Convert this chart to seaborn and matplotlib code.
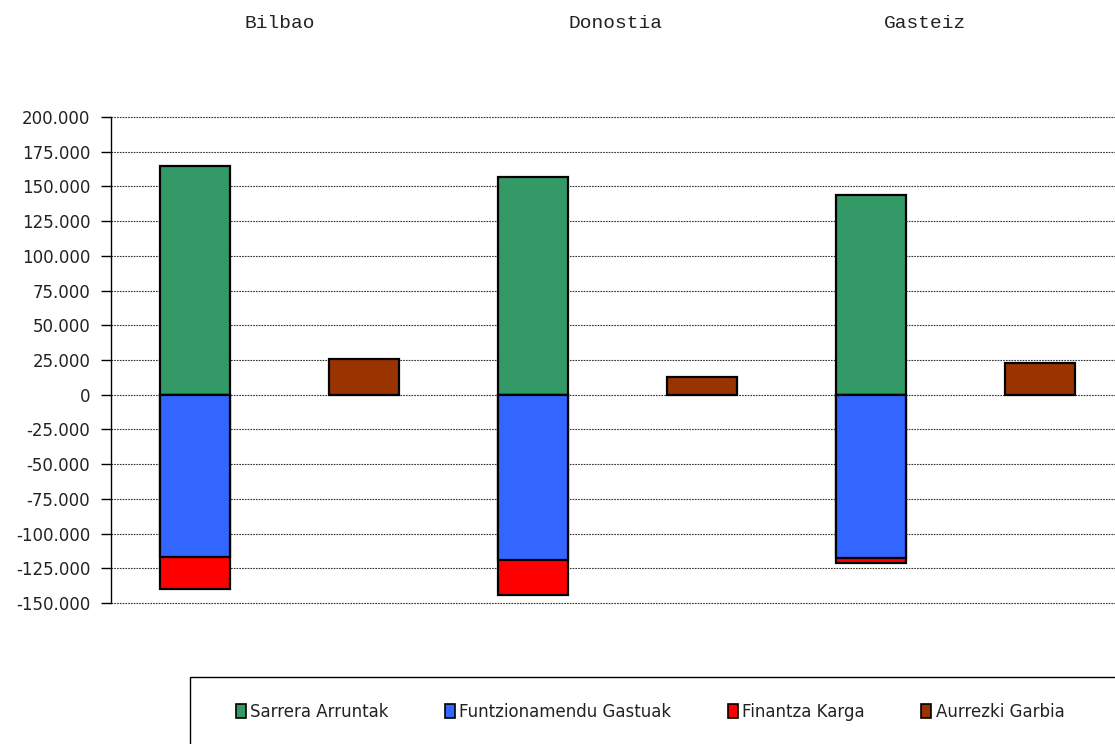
import numpy as np
import pandas as pd
import matplotlib
matplotlib.use("Agg")
import matplotlib.pyplot as plt
import seaborn as sns
from matplotlib.ticker import FuncFormatter, FixedLocator
from matplotlib.patches import Rectangle, Patch

# ---- data ----
cities = ["Bilbao", "Donostia", "Gasteiz"]
series_names = ["Sarrera Arruntak", "Funtzionamendu Gastuak", "Finantza Karga", "Aurrezki Garbia"]
sarrera = [165000, 157000, 143500]
funtzionamendu = [-117000, -119300, -117600]
finantza = [-22800, -24900, -3600]
aurrezki = [25700, 12700, 22800]
y_ticks = [-150000, -125000, -100000, -75000, -50000, -25000, 0,
           25000, 50000, 75000, 100000, 125000, 150000, 175000, 200000]
colors = ["#339966", "#3366FF", "#FF0000", "#993300"]

sns.set_theme(style="white")
plt.rcParams['font.family'] = ['DejaVu Sans']

slots = []
for c in cities:
    slots += [c + " 1", c + " 2"]
main_slots = [c + " 1" for c in cities]
side_slots = [c + " 2" for c in cities]

df_main = pd.DataFrame({
    "slot": main_slots,
    "sarrera": sarrera,
    "funtz": funtzionamendu,
    "fin_total": np.add(funtzionamendu, finantza),
})
df_side = pd.DataFrame({"slot": side_slots, "aurrezki": aurrezki})

fig = plt.figure(figsize=(11.15, 7.44), dpi=100)
ax = fig.add_axes([111 / 1115, 1 - 603 / 744, 1 - 111 / 1115, (603 - 117) / 744])

common = dict(order=slots, width=0.41, edgecolor="black", linewidth=1.6,
              saturation=1, ax=ax, errorbar=None)
sns.barplot(data=df_main, x="slot", y="sarrera", color=colors[0], **common)
sns.barplot(data=df_main, x="slot", y="fin_total", color=colors[2], **common)
sns.barplot(data=df_main, x="slot", y="funtz", color=colors[1], **common)
sns.barplot(data=df_side, x="slot", y="aurrezki", color=colors[3], **common)

ax.set_xlim(-0.497, 5.444)
ax.set_ylim(-150000, 200000)
ax.set_xlabel("")
ax.set_ylabel("")
ax.set_xticks([])
ax.yaxis.set_major_locator(FixedLocator(y_ticks))
ax.yaxis.set_major_formatter(FuncFormatter(lambda v, p: f"{int(round(v)):,}".replace(",", ".")))
ax.yaxis.grid(True, color="#333333", linestyle=(0, (1.5, 1)), linewidth=0.8)
for gl in ax.get_ygridlines():
    gl.set_clip_on(False)
ax.set_axisbelow(True)
for s in ["top", "right", "bottom"]:
    ax.spines[s].set_visible(False)
ax.spines["left"].set_color("black")
ax.spines["left"].set_linewidth(1.0)
ax.tick_params(axis="y", left=True, length=7, width=1, color="black",
               direction="out", labelsize=12, pad=8, labelcolor="#222222")

# city titles
title_x = [280, 616, 925]
for name, x in zip(cities, title_x):
    fig.text(x / 1115, 1 - 24 / 744, name, ha="center", va="center",
             family="Liberation Mono", fontsize=14, color="#222222")

# legend box
fig.add_artist(Rectangle((190 / 1115, -0.02), 1.0, (744 - 677) / 744 + 0.02,
                         transform=fig.transFigure, fill=False,
                         edgecolor="black", linewidth=1.0))
handles = [Patch(facecolor=c, edgecolor="black", linewidth=1.2) for c in colors]
fig.legend(handles, series_names, loc="center", bbox_to_anchor=(650 / 1115, 1 - 712 / 744),
           ncol=4, frameon=False, fontsize=12, handlelength=0.6, handleheight=0.9,
           handletextpad=0.25, columnspacing=3.4, labelcolor="#222222")

fig.savefig("out.png", dpi=100)
